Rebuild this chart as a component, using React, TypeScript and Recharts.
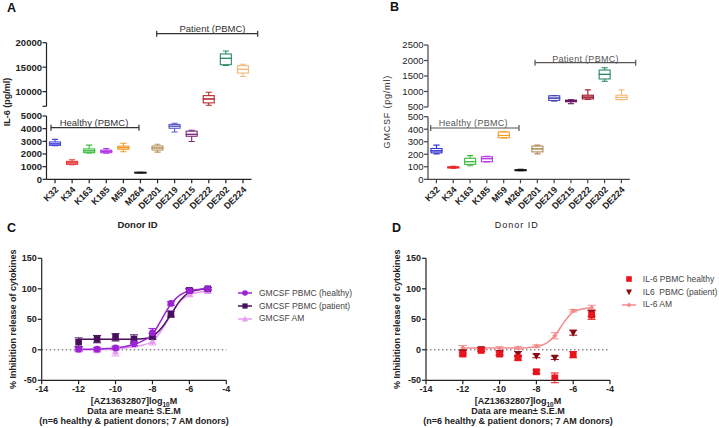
import React from 'react'
import { ComposedChart, Bar, XAxis, YAxis, Scatter, Line, ErrorBar, ReferenceLine, Legend } from 'recharts'

const FONT = '"Liberation Sans", Arial, sans-serif'

// ---- panel A / B : box plots per donor ----
const DONORS = ['K32', 'K34', 'K163', 'K185', 'M59', 'M264', 'DE201', 'DE219', 'DE215', 'DE222', 'DE202', 'DE224']

const IL6_MIN = [2650, 1150, 2080, 2070, 2180, 520, 2150, 3740, 2980, 7200, 15350, 13100]
const IL6_Q1 = [2680, 1180, 2100, 2100, 2370, 530, 2310, 4030, 3400, 7700, 15500, 13800]
const IL6_MED = [2800, 1300, 2250, 2200, 2500, 540, 2470, 4190, 3550, 8500, 16800, 14560]
const IL6_Q3 = [2950, 1420, 2400, 2300, 2620, 550, 2630, 4330, 3800, 9180, 17700, 15300]
const IL6_MAX = [3150, 1550, 2700, 2420, 2850, 560, 2770, 4430, 3870, 9860, 18300, 15600]

const GM_MIN = [203, 88, 108, 138, 330, 68, 203, 690, 606, 750, 1330, 734]
const GM_Q1 = [211, 90, 119, 141, 332, 70, 219, 713, 670, 760, 1404, 740]
const GM_MED = [227, 95, 141, 165, 350, 73, 243, 787, 690, 819, 1553, 808]
const GM_Q3 = [246, 100, 168, 180, 378, 76, 265, 862, 720, 880, 1692, 880]
const GM_MAX = [273, 103, 189, 184, 382, 79, 273, 870, 734, 1053, 1766, 1053]

const COLORS_A = ['#4646e0', '#ea3a3a', '#3cbc3c', '#b43ce6', '#f29a2a', '#111111', '#b89462', '#5a5ac8', '#7a2a7a', '#b42a2a', '#2a8a68', '#f2b878']
const COLORS_B = ['#3434d4', '#ea2a2a', '#3cbc3c', '#b43ce6', '#f29a2a', '#111111', '#b08a58', '#4444b8', '#6a1462', '#a01428', '#2a8a68', '#f2b878']

// ---- panel C / D : dose response ----
const DOSE = [-12, -11, -10, -9, -8, -7, -6, -5]
const GM_HEALTHY = [1, 1, 3, 10, 28, 76, 97, 100]
const GM_HEALTHY_SEM = [3, 3, 3, 3, 7, 3, 2, 2]
const GM_PATIENT = [12.5, 17.5, 20.5, 17.5, 22, 58.5, 97.5, 100]
const GM_PATIENT_SEM = [7, 6, 6, 7, 5, 5, 3, 2]
const GM_AM = [0, -1, -3, 8, 14, 60, 91, 96]
const GM_AM_SEM = [3, 3, 7, 3, 6, 4, 3, 3]

const IL6_HEALTHY = [-7, -1, -7, -13, -36, -46, -8, 57]
const IL6_HEALTHY_SEM = [3, 2, 3, 4, 3, 8, 5, 7]
const IL6_PATIENT = [-4, 1, -5, -7, -10, -13, 28, 60]
const IL6_PATIENT_SEM = [3, 3, 3, 4, 3, 3, 4, 5]
const IL6_AM = [3, 2, 2, 3, 6, 23, 64, 69]
const IL6_AM_SEM = [4, 2, 3, 2, 2, 5, 2, 4]

// fitted curves, every half log unit
const FIT_X = [-12, -11.5, -11, -10.5, -10, -9.5, -9, -8.5, -8, -7.5, -7, -6.5, -6, -5.5, -5]
const GM_HEALTHY_FIT = [1, 1, 1.2, 2, 3, 5, 9, 15, 25, 50, 75, 90, 96.5, 99, 100]
const GM_PATIENT_FIT = [17.5, 17.5, 17.5, 17.5, 17.5, 17.5, 17.5, 18, 22, 36, 58, 81, 94, 98.5, 100]
const GM_AM_FIT = [0, 0, 0.5, 1, 1.5, 3, 5, 8, 14, 32, 57, 79, 90, 94.5, 96]
const IL6_AM_FIT = [3, 3, 3, 3, 3, 3, 3, 3.5, 5, 10, 23, 45, 62, 67, 69]

const C_HEALTHY = '#9c22d4'
const C_PATIENT = '#48105c'
const C_AM = '#e69cf0'
const D_HEALTHY = '#e8141c'
const D_PATIENT = '#8a0a10'
const D_AM = '#f38b8b'

const boxRows = (min: number[], q1: number[], med: number[], q3: number[], max: number[]) =>
  DONORS.map((donor, i) => ({
    donor,
    base: min[i],
    lowW: q1[i] - min[i],
    lowBox: med[i] - q1[i],
    highBox: q3[i] - med[i],
    highW: max[i] - q3[i],
  }))

const pts = (y: number[], e: number[]) => DOSE.map((x, i) => ({ x, y: y[i], e: e[i] }))
const fit = (y: number[]) => FIT_X.map((x, i) => ({ x, y: y[i] }))

const PARTS = ['base', 'lowW', 'lowBox', 'highBox', 'highW'] as const
type Part = typeof PARTS[number]

// value range covered by one stacked piece of the box
const partRange = (part: Part, d: any): [number, number] => {
  const min = d.base
  const q1 = min + d.lowW
  const med = q1 + d.lowBox
  const q3 = med + d.highBox
  const max = q3 + d.highW
  if (part === 'lowW') return [min, q1]
  if (part === 'lowBox') return [q1, med]
  if (part === 'highBox') return [med, q3]
  if (part === 'highW') return [q3, max]
  return [0, min]
}

const boxPart = (part: Part, colors: string[], domain: [number, number]) => (p: any) => {
  const { x, y, width, height, payload } = p
  if (part === 'base' || x == null || !isFinite(y) || !payload) return <g />
  const [lo, hi] = partRange(part, payload)
  if (hi < domain[0] || lo > domain[1]) return <g />
  const c = colors[DONORS.indexOf(payload.donor)] ?? '#000'
  const cx = x + width / 2
  const cap = width * 0.28
  if (part === 'lowW') {
    return (
      <g stroke={c} strokeWidth={1.1}>
        <line x1={cx} x2={cx} y1={y} y2={y + height} />
        <line x1={cx - cap} x2={cx + cap} y1={y + height} y2={y + height} />
      </g>
    )
  }
  if (part === 'highW') {
    return (
      <g stroke={c} strokeWidth={1.1}>
        <line x1={cx} x2={cx} y1={y} y2={y + height} />
        <line x1={cx - cap} x2={cx + cap} y1={y} y2={y} />
      </g>
    )
  }
  return <rect x={x} y={y} width={width} height={Math.max(height, 0.5)} fill="none" stroke={c} strokeWidth={1.1} />
}

const RotTick = (props: any) => {
  const { x, y, payload } = props
  const ax = x + 4
  const ay = y + 5
  return (
    <text x={ax} y={ay} transform={`rotate(-45 ${ax} ${ay})`} textAnchor="end" fontSize={9} fontWeight={700} fill="#222" fontFamily={FONT}>
      {payload.value}
    </text>
  )
}

const donorLabel = (dx: number, bold: boolean) => (props: any) => {
  const vb = props.viewBox || {}
  return (
    <text x={vb.x + vb.width / 2 + dx} y={vb.y + 49} textAnchor="middle" fontSize={bold ? 9.5 : 9} fontWeight={bold ? 700 : 400}
      letterSpacing={bold ? 0 : 1} fill="#222" fontFamily={FONT}>
      Donor ID
    </text>
  )
}

interface BoxPanelProps {
  rows: any[]
  colors: string[]
  domain: [number, number]
  ticks: number[]
  blankTick?: number
  left: number
  top: number
  width: number
  height: number
  margin: { top: number; right: number; bottom: number; left: number }
  yWidth: number
  showX: boolean
  bold: boolean
  labelDx: number
}

function BoxPanel(p: BoxPanelProps) {
  const axisColor = p.bold ? '#222' : '#444'
  return (
    <div style={{ position: 'absolute', left: p.left, top: p.top }}>
      <ComposedChart width={p.width} height={p.height} data={p.rows} margin={p.margin}>
        <XAxis
          dataKey="donor"
          hide={!p.showX}
          interval={0}
          height={50.7}
          tickSize={4}
          tick={<RotTick />}
          axisLine={{ stroke: axisColor, strokeWidth: 1.2 }}
          tickLine={{ stroke: axisColor, strokeWidth: 1.2 }}
          label={donorLabel(p.labelDx, p.bold)}
        />
        <YAxis
          type="number"
          domain={p.domain}
          ticks={p.ticks}
          allowDataOverflow
          interval={0}
          width={p.yWidth}
          tickSize={4}
          tickMargin={0.5}
          tickFormatter={(v: number) => (v === p.blankTick ? '' : String(v))}
          tick={{ fontSize: 9.5, fontWeight: p.bold ? 700 : 400, fill: '#222', fontFamily: FONT }}
          axisLine={{ stroke: axisColor, strokeWidth: 1.2 }}
          tickLine={{ stroke: axisColor, strokeWidth: 1.2 }}
        />
        {PARTS.map(part => (
          <Bar key={part} stackId="box" dataKey={part} barSize={11} shape={boxPart(part, p.colors, p.domain)} isAnimationActive={false} />
        ))}
      </ComposedChart>
    </div>
  )
}

// ---- markers ----
const marker = (kind: string, color: string, s: number) => (p: any) => {
  const { cx, cy } = p
  if (cx == null || cy == null) return <g />
  if (kind === 'circle') return <circle cx={cx} cy={cy} r={s} fill={color} />
  if (kind === 'square') return <rect x={cx - s} y={cy - s} width={2 * s} height={2 * s} fill={color} />
  if (kind === 'up') return <path d={`M${cx},${cy - s * 1.1}L${cx + s},${cy + s * 0.8}L${cx - s},${cy + s * 0.8}Z`} fill={color} />
  if (kind === 'down') return <path d={`M${cx},${cy + s * 1.1}L${cx + s},${cy - s * 0.8}L${cx - s},${cy - s * 0.8}Z`} fill={color} />
  return <path d={`M${cx},${cy - s}L${cx + s},${cy}L${cx},${cy + s}L${cx - s},${cy}Z`} fill={color} />
}

interface LegendItem {
  label: string
  color: string
  kind: string
  size: number
  line: boolean
}

const LegendBox = ({ items, gap }: { items: LegendItem[]; gap: number }) => (
  <div style={{ fontFamily: FONT, fontSize: 8.5, color: '#444', lineHeight: '12.7px' }}>
    {items.map(it => (
      <div key={it.label} style={{ display: 'flex', alignItems: 'center', height: 12.7, whiteSpace: 'pre' }}>
        <svg width={14} height={12} style={{ marginRight: gap }}>
          {it.line && <line x1={0} x2={14} y1={6} y2={6} stroke={it.color} strokeWidth={1.5} />}
          {marker(it.kind, it.color, it.size)({ cx: 7, cy: 6 })}
        </svg>
        <span>{it.label}</span>
      </div>
    ))}
  </div>
)

const xLabel = (props: any) => {
  const vb = props.viewBox || {}
  const cx = vb.x + vb.width / 2
  const st = { fontSize: 9, fontWeight: 700, fill: '#222', fontFamily: FONT } as const
  return (
    <g>
      <text x={cx} y={vb.y + 24} textAnchor="middle" {...st}>
        [AZ13632807]log<tspan fontSize={6.5} dy={2.5}>10</tspan><tspan dy={-2.5}>M</tspan>
      </text>
      <text x={cx} y={vb.y + 34} textAnchor="middle" {...st}>Data are mean± S.E.M</text>
      <text x={cx} y={vb.y + 44} textAnchor="middle" {...st}>(n=6 healthy &amp; patient donors; 7 AM donors)</text>
    </g>
  )
}

const yLabel = (props: any) => {
  const vb = props.viewBox || {}
  const x = vb.x + vb.width - 28.7
  const y = vb.y + vb.height / 2
  return (
    <text x={x} y={y} transform={`rotate(-90 ${x} ${y})`} textAnchor="middle" dominantBaseline="central"
      fontSize={9} fontWeight={700} fill="#222" fontFamily={FONT}>
      % Inhibition release of cytokines
    </text>
  )
}

interface DoseSeries {
  name: string
  data: { x: number; y: number; e: number }[]
  color: string
  kind: string
  size: number
}

interface DosePanelProps {
  left: number
  width: number
  yWidth: number
  right: number
  series: DoseSeries[]
  fits: { name: string; data: { x: number; y: number }[]; color: string }[]
  legend: LegendItem[]
  legendLeft: number
  legendTop: number
  legendGap: number
}

function DosePanel(p: DosePanelProps) {
  const tickStyle = { fontSize: 9, fontWeight: 700, fill: '#222', fontFamily: FONT }
  return (
    <div style={{ position: 'absolute', left: p.left, top: 240 }}>
      <ComposedChart width={p.width} height={188} margin={{ top: 18.3, right: p.right, bottom: 0, left: 0 }}>
        <XAxis type="number" dataKey="x" domain={[-14, -4]} ticks={[-14, -12, -10, -8, -6, -4]} allowDataOverflow interval={0}
          height={47.7} tickSize={4} tickMargin={1} tick={tickStyle}
          axisLine={{ stroke: '#222', strokeWidth: 1.2 }} tickLine={{ stroke: '#222', strokeWidth: 1.2 }} label={xLabel} />
        <YAxis type="number" dataKey="y" domain={[-50, 150]} ticks={[-50, 0, 50, 100, 150]} allowDataOverflow interval={0}
          width={p.yWidth} tickSize={4} tickMargin={1} tick={tickStyle}
          axisLine={{ stroke: '#222', strokeWidth: 1.2 }} tickLine={{ stroke: '#222', strokeWidth: 1.2 }} label={yLabel} />
        <ReferenceLine y={0} stroke="#555" strokeWidth={1} strokeDasharray="1.5 2.5" />
        {p.fits.map(f => (
          <Line key={f.name} data={f.data} dataKey="y" type="monotone" stroke={f.color} strokeWidth={1.5} dot={false}
            activeDot={false} isAnimationActive={false} legendType="none" />
        ))}
        {p.series.map(s => (
          <Scatter key={s.name} name={s.name} data={s.data} fill={s.color} shape={marker(s.kind, s.color, s.size)} isAnimationActive={false}>
            <ErrorBar dataKey="e" direction="y" width={4} stroke={s.color} strokeWidth={1} />
          </Scatter>
        ))}
        <Legend layout="vertical" align="center" verticalAlign="middle"
          wrapperStyle={{ left: p.legendLeft, top: p.legendTop, width: 140 }}
          content={() => <LegendBox items={p.legend} gap={p.legendGap} />} />
      </ComposedChart>
    </div>
  )
}

const Bracket = ({ x1, x2, y, text, tx, ty, color, size, spacing }: any) => (
  <g>
    <line x1={x1} x2={x2} y1={y} y2={y} stroke={color} strokeWidth={1.2} />
    <line x1={x1} x2={x1} y1={y - 3} y2={y + 3} stroke={color} strokeWidth={1.2} />
    <line x1={x2} x2={x2} y1={y - 3} y2={y + 3} stroke={color} strokeWidth={1.2} />
    <text x={tx} y={ty} textAnchor="middle" fontSize={size} letterSpacing={spacing} fill={color} fontFamily={FONT}>{text}</text>
  </g>
)

export default function App() {
  const il6 = boxRows(IL6_MIN, IL6_Q1, IL6_MED, IL6_Q3, IL6_MAX)
  const gm = boxRows(GM_MIN, GM_Q1, GM_MED, GM_Q3, GM_MAX)

  return (
    <div style={{ position: 'fixed', left: 0, top: 0, width: 719, height: 428, background: '#fff', overflow: 'hidden', fontFamily: FONT }}>
      {/* A: IL-6, broken axis */}
      <BoxPanel rows={il6} colors={COLORS_A} domain={[7000, 20000]} ticks={[7000, 10000, 15000, 20000]} blankTick={7000}
        left={0} top={0} width={260} height={116} margin={{ top: 42.7, right: 8.5, bottom: 9.7, left: 0 }} yWidth={46.5}
        showX={false} bold labelDx={-11.5} />
      <BoxPanel rows={il6} colors={COLORS_A} domain={[0, 5000]} ticks={[0, 1000, 2000, 3000, 4000, 5000]}
        left={0} top={100} width={260} height={130} margin={{ top: 16, right: 8.5, bottom: 0, left: 0 }} yWidth={46.5}
        showX bold labelDx={-11.5} />

      {/* B: GMCSF, broken axis */}
      <BoxPanel rows={gm} colors={COLORS_B} domain={[500, 2500]} ticks={[500, 1000, 1500, 2000, 2500]}
        left={340} top={0} width={300} height={117} margin={{ top: 45, right: 10.2, bottom: 10, left: 0 }} yWidth={88}
        showX={false} bold={false} labelDx={-12.2} />
      <BoxPanel rows={gm} colors={COLORS_B} domain={[0, 500]} ticks={[0, 100, 200, 300, 400, 500]}
        left={340} top={100} width={300} height={130} margin={{ top: 16.7, right: 10.2, bottom: 0, left: 0 }} yWidth={88}
        showX bold={false} labelDx={-12.2} />

      {/* C: GMCSF inhibition */}
      <DosePanel left={0} width={360} yWidth={41.7} right={133.7}
        fits={[
          { name: 'hf', data: fit(GM_AM_FIT), color: C_AM },
          { name: 'pf', data: fit(GM_PATIENT_FIT), color: C_PATIENT },
          { name: 'h', data: fit(GM_HEALTHY_FIT), color: C_HEALTHY },
        ]}
        series={[
          { name: 'GMCSF AM', data: pts(GM_AM, GM_AM_SEM), color: C_AM, kind: 'up', size: 3.6 },
          { name: 'GMCSF PBMC (patient)', data: pts(GM_PATIENT, GM_PATIENT_SEM), color: C_PATIENT, kind: 'square', size: 3.3 },
          { name: 'GMCSF PBMC (healthy)', data: pts(GM_HEALTHY, GM_HEALTHY_SEM), color: C_HEALTHY, kind: 'circle', size: 3.4 },
        ]}
        legend={[
          { label: 'GMCSF PBMC (healthy)', color: C_HEALTHY, kind: 'circle', size: 2.8, line: true },
          { label: 'GMCSF PBMC (patient)', color: C_PATIENT, kind: 'square', size: 2.6, line: true },
          { label: 'GMCSF AM', color: C_AM, kind: 'up', size: 3, line: true },
        ]}
        legendLeft={238} legendTop={47} legendGap={7} />

      {/* D: IL-6 inhibition */}
      <DosePanel left={360} width={359} yWidth={66} right={109}
        fits={[{ name: 'am', data: fit(IL6_AM_FIT), color: D_AM }]}
        series={[
          { name: 'IL-6 AM', data: pts(IL6_AM, IL6_AM_SEM), color: D_AM, kind: 'diamond', size: 2.6 },
          { name: 'IL6  PBMC (patient)', data: pts(IL6_PATIENT, IL6_PATIENT_SEM), color: D_PATIENT, kind: 'down', size: 3.6 },
          { name: 'IL-6 PBMC healthy', data: pts(IL6_HEALTHY, IL6_HEALTHY_SEM), color: D_HEALTHY, kind: 'square', size: 3.4 },
        ]}
        legend={[
          { label: 'IL-6 PBMC healthy', color: D_HEALTHY, kind: 'square', size: 2.8, line: false },
          { label: 'IL6  PBMC (patient)', color: D_PATIENT, kind: 'down', size: 3, line: false },
          { label: 'IL-6 AM', color: D_AM, kind: 'diamond', size: 2.4, line: true },
        ]}
        legendLeft={262.3} legendTop={33} legendGap={6.5} />

      {/* annotations */}
      <svg width={719} height={428} style={{ position: 'absolute', left: 0, top: 0, pointerEvents: 'none' }} fontFamily={FONT}>
        <text x={7} y={12} fontSize={12.5} fontWeight={700} fill="#111">A</text>
        <text x={390} y={11} fontSize={12.5} fontWeight={700} fill="#111">B</text>
        <text x={7} y={232} fontSize={12.5} fontWeight={700} fill="#111">C</text>
        <text x={392} y={232} fontSize={12.5} fontWeight={700} fill="#111">D</text>

        <text x={7} y={102} transform="rotate(-90 7 102)" textAnchor="middle" dominantBaseline="central" fontSize={9} fontWeight={700} fill="#222">IL-6 (pg/ml)</text>
        <text x={386.7} y={111.7} transform="rotate(-90 386.7 111.7)" textAnchor="middle" dominantBaseline="central" fontSize={9} letterSpacing={0.8} fill="#333">GMCSF (pg/ml)</text>

        <Bracket x1={156.7} x2={257.7} y={33.7} text="Patient (PBMC)" tx={212.5} ty={32} color="#333" size={9.5} spacing={0} />
        <Bracket x1={51} x2={139} y={127.7} text="Healthy (PBMC)" tx={94} ty={126} color="#333" size={9.5} spacing={0} />
        <Bracket x1={535} x2={635.7} y={62.7} text="Patient (PBMC)" tx={585.5} ty={61.5} color="#555" size={9} spacing={0.3} />
        <Bracket x1={430.7} x2={519} y={128} text="Healthy (PBMC)" tx={473.3} ty={125.5} color="#555" size={9} spacing={0.3} />
      </svg>
    </div>
  )
}
